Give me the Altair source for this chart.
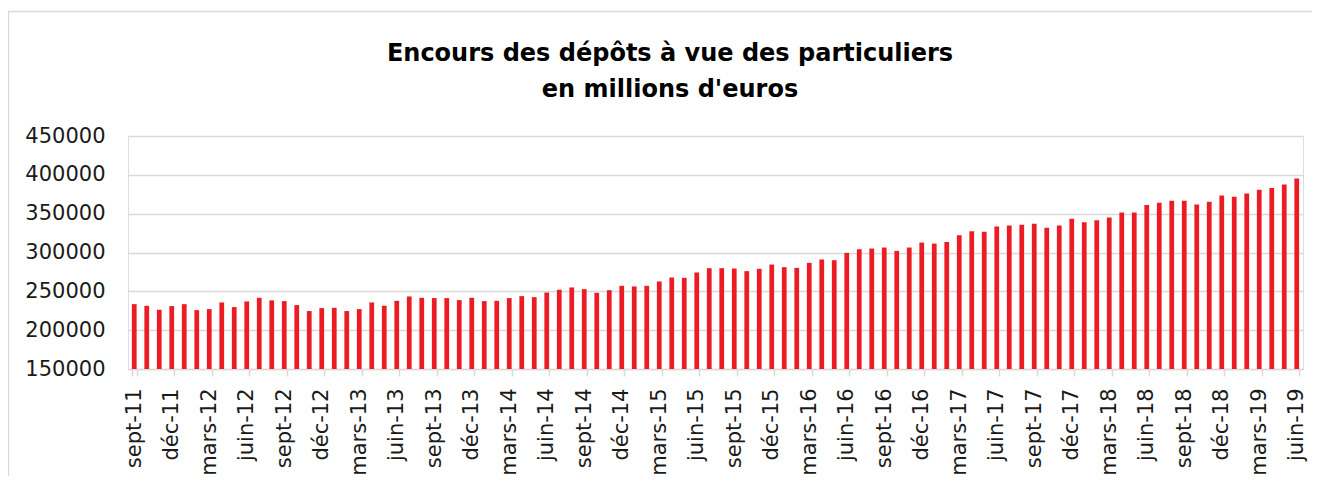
import altair as alt
import pandas as pd

# French month abbreviations (Excel "mmm-yy" style)
month_names = ["janv", "févr", "mars", "avr", "mai", "juin",
               "juil", "août", "sept", "oct", "nov", "déc"]
start_year = 11      # 2011
start_month = 8      # index of "sept"

# Encours des dépôts à vue des particuliers (millions d'euros), sept-11 .. juin-19
encours = [
    233500, 231400, 226300, 231000, 233500, 225800, 227100, 235700, 229700, 237000,
    241700, 238300, 237400, 232300, 224600, 228400, 228800, 224600, 227100, 235700,
    231400, 237800, 243400, 241700, 241300, 241300, 238700, 241700, 237400, 237800,
    241300, 243800, 242500, 248500, 252000, 255000, 252800, 248100, 251500, 257100,
    256300, 257100, 262700, 267800, 267400, 274300, 279800, 279800, 279400, 276000,
    279000, 284500, 281100, 280200, 286700, 291000, 290100, 299500, 304200, 305100,
    306400, 302100, 306400, 312800, 311500, 313500, 322100, 327200, 326800, 333600,
    334900, 335800, 337100, 331900, 334900, 343500, 338800, 341400, 345200, 351600,
    351600, 361000, 364000, 366600, 366600, 361900, 365300, 373500, 371700, 376000,
    380700, 382900, 387600, 395300,
]

mois = []
for i in range(len(encours)):
    k = start_month + i
    mois.append(f"{month_names[k % 12]}-{start_year + k // 12:02d}")

tick_labels = mois[::3]
y_ticks = [150000, 200000, 250000, 300000, 350000, 400000, 450000]

title_line1 = "Encours des dépôts à vue des particuliers"
title_line2 = "en millions d'euros"

df = pd.DataFrame({"mois": mois, "encours": encours})
one = pd.DataFrame({"a": [0]})

GRID = "#d9d9d9"
FONT = "DejaVu Sans"

bars = alt.Chart(df).mark_bar(color="#EC1C24").encode(
    x=alt.X(
        "mois:N",
        sort=mois,
        title=None,
        scale=alt.Scale(paddingInner=0.62, paddingOuter=0.31),
        axis=alt.Axis(
            values=tick_labels,
            labelAngle=-90,
            labelAlign="right",
            labelBaseline="middle",
            labelPadding=12,
            labelFont=FONT,
            labelFontSize=21,
            labelColor="#1a1a1a",
            tickBand="extent",
            tickColor=GRID,
            tickWidth=1.5,
            tickSize=7,
            domainColor=GRID,
            domainWidth=1.5,
            grid=False,
            labelOverlap=False,
        ),
    ),
    y=alt.Y(
        "encours:Q",
        title=None,
        scale=alt.Scale(domain=[150000, 450000], zero=False, nice=False),
        axis=alt.Axis(
            values=y_ticks,
            format="d",
            ticks=False,
            domain=False,
            labelPadding=23,
            labelFont=FONT,
            labelFontSize=21,
            labelColor="#1a1a1a",
            grid=True,
            gridColor=GRID,
            gridWidth=1.3,
        ),
    ),
    y2=alt.datum(150000),
)

# outer chart frame (only its left and top edges fall inside the picture)
frame = alt.Chart(one).mark_rect(fill=None, fillOpacity=0, stroke=GRID, strokeWidth=1.5).encode(
    x=alt.value(-119.5), x2=alt.value(1250), y=alt.value(-124.5), y2=alt.value(450)
)

title_style = dict(font=FONT, fontSize=24, fontWeight="bold", color="#000000",
                   align="center", baseline="alphabetic")
t1 = alt.Chart(one).mark_text(**title_style).encode(
    x=alt.value(542), y=alt.value(-75), text=alt.value(title_line1)
)
t2 = alt.Chart(one).mark_text(**title_style).encode(
    x=alt.value(542), y=alt.value(-39), text=alt.value(title_line2)
)

chart = alt.layer(frame, t1, t2, bars).properties(
    width=1175,
    height=233,
    autosize=alt.AutoSizeParams(type="none"),
    padding={"left": 120, "top": 128, "right": 9, "bottom": 107},
).configure_view(stroke=None).configure(background="white")

chart.save("out.html", embed_options={"renderer": "svg", "actions": False})
